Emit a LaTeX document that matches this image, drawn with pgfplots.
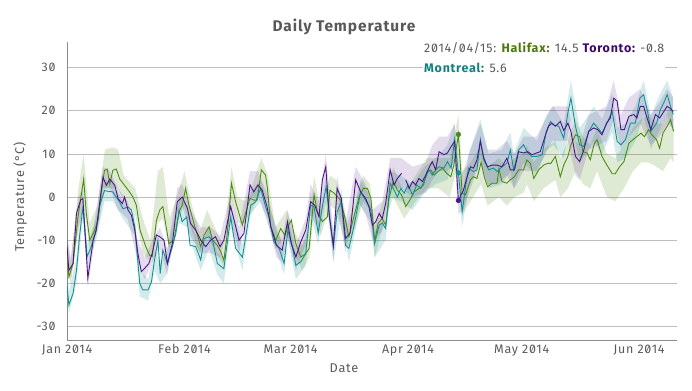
\documentclass[border=0pt]{standalone}
\usepackage{fontspec}
\setmainfont{Fira Sans}[RawFeature=+zero, LetterSpace=6]
\usepackage{pgfplots}
\usepackage{pgfplotstable}
\pgfplotsset{compat=1.18}
\usepgfplotslibrary{fillbetween}
\definecolor{hal}{HTML}{4E8A12}
\definecolor{tor}{HTML}{4B1587}
\definecolor{mon}{HTML}{159090}
\definecolor{haltxt}{HTML}{4A7A0A}
\definecolor{tortxt}{HTML}{3C0870}
\definecolor{montxt}{HTML}{138080}
\definecolor{txtgray}{HTML}{595959}
\definecolor{gridgray}{HTML}{BDBDBD}
\definecolor{axgray}{HTML}{8C8C8C}

\pgfplotstableread{
d t
0 -14
0.5 -18.5
1.6 -15.4
2.9 -4.6
4.4 4.2
5.1 -3.8
6 -10
7.3 -7.7
8.2 -5.4
9.1 1.5
9.9 6.2
10.6 6.5
11.3 3
12.1 6.2
13 6.5
13.9 4.2
15.2 2.7
16.5 1.2
17.4 0
18.3 -1.9
19.3 -7.7
20.8 -11.5
21.8 -13.5
22.5 -13.8
23.6 -5.4
24.5 -3
25.3 -2.2
26.9 -10.8
28.2 -10
29.6 -3.4
30.4 -1.9
31.3 2
32.2 -1.9
33.5 -6.1
35.3 -11.5
36.2 -8.8
37.5 -6.9
38.4 -10
39.7 -11.2
40.6 -12.7
41.4 -14.7
42.3 -8.4
43.4 3.2
44.5 -1.1
45.4 -3.8
46.3 -6.5
47.1 -3.8
48.3 -0.3
49.3 -0.7
50.2 -0.7
51.3 6.3
52.4 5.1
52.9 2
53.8 -6.9
55.1 -10
56.4 -7.3
57.5 -8.8
58.3 -6.9
59.2 -5.3
60.4 -10.8
61.7 -13.9
63 -13.1
63.9 -11.9
65.2 0.5
66.1 -3.4
67.4 -5.7
68.7 -4.6
69.4 1.6
70.5 0.9
72.2 -0.7
73.3 -4.6
74.4 -9.2
75.7 -4.6
77.1 0
78.2 2
79.3 2
80.2 -0.3
81.2 -10.4
82.1 -6.1
83.2 -5
84.1 -6.5
85 -0.3
86.1 3.6
87.2 1.6
88.3 0.5
89.4 -2.2
90.5 -0.7
91.6 1.2
92.9 2
94.1 2.8
95.1 5.9
96 6.3
96.9 5.1
97.9 5.9
99.1 6.7
100.2 5.5
101.3 4.7
102.1 7.4
103.3 14.5
104.3 0.9
105.2 0.5
106.5 4
107.3 4.7
108.2 4.3
109.3 8
110.2 4.5
111 2.4
112.2 3.2
113.5 3.2
114 6.5
114.8 3.6
116.1 3.2
117 4
118.1 4.7
119.2 6.3
120.5 6.3
121.4 8.6
122.3 7.8
123.2 4.3
124.5 6.3
125.8 7.4
126.8 7.8
127.7 7.8
128.9 9.4
130.2 4.7
131.1 7.4
132.2 9.4
133 12.1
134.2 14.4
135.3 14
136.2 10.5
137.3 10.2
138.1 8.6
139.2 12.5
139.9 13.3
141.2 9.4
142.5 7.4
143.9 5.4
144.7 5.4
145.9 7.1
147 8.2
148.3 12.5
149.4 13.3
150.4 14
151.5 14.8
152.4 14
153.5 15.6
154.4 14.4
155.6 13.3
156.4 11.3
157.3 14.8
158.4 16.4
159.3 17.9
160.1 15.2
}\hal

\pgfplotstableread{
d lo hi
0 -17 -10
1 -20 -15
3 -8 2
4.4 -2 10
6 -12 -6
8 -8 -2
10 2 11
12 2 11.5
13.5 2 11
15 -1 5
18 -4 2
20 -13 -5
22 -15 -10
24 -6 6
25.3 -5 7
27 -12 -5
29 -6 0
31 -2 6
33 -8 -2
35 -13 -8
37 -9 -3
40 -14 -9
41.4 -16 -11
43.4 0 7
45 -6 0
47 -6 -1
49 -3 3
51.3 2 9
53 -1 5
55 -12 -7
58 -9 -3
60 -13 -8
62 -17 -11
64 -14 -7
65.2 -3 5
67 -9 -3
69.4 -2 5
71 -3 4
74 -12 -6
76 -7 -1
78.2 -1 5
80 -3 3
81.2 -14 -7
83 -8 -2
85 -3 3
86.1 0 7
89 -5 1
92 -1 5
95 2 9
98 2 9
101 0 9
103.3 8 19
104.3 -4 6
106.5 -1 8
109.3 3 12
111 -2 7
114 0 9
116.1 -2 7
118.1 0 9
120.5 1 10
121.4 3 12
123.2 -1 8
125.8 2 11
128.9 4 13
130.2 0 9
132.2 2 13
134.2 6 18
136.2 3 14
138.1 2 12
139.9 6 16
142.5 0 10
144.7 -1 9
147 2 12
149.4 6 16
151.5 8 18
153.5 8 19
155.6 7 17
157.3 6 17
159.3 9 21
160.1 8 18
}\halband

\pgfplotstableread{
d t
0 -11.5
0.5 -17
1.6 -15.4
2.5 -3.8
3.6 -0.7
4.2 -0.4
5.5 -18.8
6.9 -10
7.7 -7.7
8.6 -1.5
9.5 4.6
10.4 2.7
11.3 4.2
12.6 2.7
13.5 -0.4
14.6 -1.5
15.2 0
16.1 -3
17 -4.2
17.9 -7.7
18.7 -13
19.6 -17.3
20.5 -16.5
21.6 -15.4
22.5 -13
23.6 -8.8
24.5 -9.2
25.6 -10
26.5 -15.4
27.8 -10.8
29.1 -1.1
30.4 0
31.8 -2.6
32.6 -6.1
34 -7.7
35.3 -10
36.6 -11.5
37.9 -10
39.2 -9.2
40.4 -11.5
41.4 -10
43.2 -2.2
44.1 -5.3
45.4 -10
46.7 -8.4
48.3 2.8
49.3 1.2
50.4 2.8
51.5 1.6
52.8 -2.2
53.8 -6.9
55.3 -11.2
56.8 -12.3
58.2 -5.7
59.2 -10.8
60.4 -13.9
61.7 -10.4
63 -7.7
64.3 -1.1
65.4 -1.9
66.5 -4.6
67.4 4
68.3 7
69.2 -4.2
70.3 -11.2
71.3 2
72.4 -0.3
73.5 -9.6
74.7 -8.4
76.2 4
77.5 1.2
78.8 -0.3
79.7 -2.2
80.6 -6.5
81.5 -5.7
82.4 -3.8
83.2 -5
84.1 -1.5
85.3 6.3
86.3 2.8
87.2 4.3
88.3 5.5
88.9 nan
89.4 4
90.3 2
91.2 3.6
92 2.8
92.9 4.3
93.8 3.6
94.7 5.1
95.5 6.7
96.4 8.2
97.3 6.3
98.2 10.5
99.5 9.8
100.4 10.2
101.4 11.7
102.3 12.9
103.3 -0.8
104.6 1.5
105.6 4.7
106.5 7
107.3 6.7
108.2 8.6
109.1 12.9
110 9
111 7
112.2 7.4
113.5 7.4
114.8 7
116.1 9
117 6.3
118.1 6.3
119.2 10.5
120.5 10.2
121.6 10.5
122.7 9.8
123.9 10.2
124.9 10.5
126.3 14.4
127.1 16.4
128 17.1
128.9 16.4
130.2 17.5
131.1 15.4
132.2 17.1
133 15.2
134.2 9.4
135.3 8.2
136.4 10.9
137.7 15.2
139 16
140.1 15.6
141.2 14.4
142.4 17.1
143.4 18.3
144.3 22.9
145.2 22.2
146.2 15.6
147.1 15.6
148.3 18.7
149.6 19.1
150.4 18.3
151.3 21
152.2 21
153.1 18.3
154.1 15.6
155.3 19.1
156.4 18.3
157.3 19.5
158.4 21
159.1 20.6
160 19.8
}\tor

\pgfplotstableread{
d lo hi
0 -14 -9
1 -19 -14
3 -7 0
4.2 -3 2
5.5 -21 -16
7 -12 -7
9.5 2 7
11.3 2 6
13.5 -3 2
16 -5 -1
18.7 -15 -10
20.5 -19 -14
22.5 -15 -10
24.5 -12 -7
26.5 -18 -12
29.1 -4 2
30.4 -2 3
32.6 -9 -3
35.3 -13 -7
37.9 -13 -7
40.4 -14 -9
43.2 -5 1
45.4 -13 -7
48.3 0 6
50.4 0 6
52.8 -5 1
55.3 -14 -8
56.8 -15 -10
58.2 -9 -3
60.4 -17 -11
63 -11 -5
64.3 -4 3
66.5 -8 -1
68.3 3 10
70.3 -15 -8
71.3 -2 5
73.5 -13 -6
76.2 0 7
78.8 -4 3
80.6 -10 -3
83.2 -8 -1
85.3 2 9
88.3 2 9
91.2 0 7
94.7 1 8
96.4 4 12
98.2 6 14
100.4 6 14
102.3 8 17
103.3 -4 4
104.6 -3 6
106.5 2 11
109.1 8 17
111 3 11
113.5 3 11
116.1 5 13
118.1 2 10
120.5 6 14
123.9 6 14
126.3 10 18
128 13 21
130.2 13 21
132.2 13 21
134.2 5 13
135.3 4 12
137.7 11 19
140.1 12 20
142.4 13 21
144.3 18 27
146.2 11 19
148.3 14 23
151.3 17 25
154.1 12 19
156.4 14 22
158.4 17 25
160 16 23
}\torband

\pgfplotstableread{
d t
0 -20.5
0.5 -25
1.6 -22.3
2.5 -17
3.3 -9.2
4.2 -2.3
5.3 -13.8
6.4 -11.5
7.7 -7.7
8.6 -2
9.9 1.5
11 1.3
12.1 1.2
13 0
13.9 -1.2
14.8 -2.7
16.1 -2.3
17 -3
17.9 -6.9
19.2 -20
20 -21.5
21.4 -21.5
22.3 -19.6
23.1 -14.6
24 -10
24.6 -17.7
25.3 -12.3
26.5 -15.4
27.8 -11.5
28.7 -8.5
29.6 -3
30.4 -5.7
31.6 -4.6
32.5 -11.2
34 -11.5
35.3 -14.6
36.2 -9.6
37.5 -9.2
38.4 -10
39.7 -15.4
41.4 -16.6
43.2 -4.6
44.5 -11.9
46.3 -13.9
48.5 -1.9
49.8 -1.1
51.1 2
52.4 -2.2
53.3 -4.6
54.6 -10.4
56 -11.9
57.3 -15.4
58.3 -7.7
59.5 -11.6
60.4 -15.8
61.7 -15
63 -13.1
64.3 -1.9
65.2 -2.2
66.3 -8.4
67.4 -2.2
68.4 2.4
69.2 -3.8
70.3 -11.6
71.3 -3.4
72.4 -1.1
73.5 -11.2
74.4 -11.9
75.7 -6.9
77.5 1.2
78.8 -0.7
80.2 -3
81.2 -10.8
82.4 -6.5
83.2 -6
84.1 -7.3
85.3 3.2
86.3 1.6
87.2 0
88.1 2
89 0.9
90 2.8
91.2 0.5
92.3 2.8
93.4 2
94.4 4
95.5 6.3
96.4 5.1
97.3 6.3
98.2 7
99.5 6.7
100.4 8.2
101.4 6.7
102.3 13.3
103.3 5.6
104.3 -3.4
105.2 2.4
106 6.7
107.3 5.9
108.2 6.3
109.1 13.3
110 8.6
111.3 6.3
112.6 6.7
113.5 5.9
114.8 7
116.1 7.8
117 10.9
117.9 6.3
119.2 10.9
120.5 12.1
121.6 10.2
122.7 9.4
124 9.4
125.4 9.8
126.5 15.2
127.6 17.5
128.4 16.7
129.8 16.4
131.1 13.6
132.2 19.5
133 22.9
134.2 16.4
135.3 12.1
136.4 11.7
137.7 15.2
139 17.1
140.1 16
141.2 14.8
142.5 17.1
143.9 19.8
145.2 12.9
146.2 12.1
147.4 13.3
148.7 17.1
150 17.1
151.2 22.9
152.2 23.7
153.3 19.5
154.1 15.2
155.6 17.1
156.6 20.2
157.5 21.8
158.4 23.7
159.3 21
160 19.1
}\mon

\pgfplotstableread{
d lo hi
0 -23 -17
0.5 -27 -22
2.5 -20 -14
4.2 -5 1
5.3 -16 -11
7.7 -10 -5
9.9 -1 4
12.1 -1 3
14.8 -5 -1
17.9 -9 -4
19.2 -23 -17
21.4 -24 -19
23.1 -17 -12
24.6 -20 -15
26.2 -18 -13
29.6 -6 0
31.6 -7 -2
34 -14 -9
35.3 -17 -12
37.5 -12 -7
39.7 -18 -13
41.4 -20 -14
43.2 -7 -2
46.3 -17 -11
48.5 -4 1
51.1 -1 4
53.3 -7 -2
57.3 -18 -12
58.3 -10 -5
60.4 -19 -13
63 -16 -10
64.3 -4 1
66.3 -11 -6
68.4 -1 5
70.3 -15 -9
72.4 -4 2
74.4 -15 -9
77.5 -2 4
80.2 -6 0
81.2 -14 -8
84.1 -10 -5
85.3 0 6
88.1 -1 5
91.2 -3 3
94.4 1 7
97.3 3 9
100.4 4 12
102.3 9 17
103.3 2 9
104.3 -7 0
106 2 10
109.1 9 18
111.3 2 10
114.8 3 11
117 6 15
117.9 2 10
120.5 8 16
124 5 13
126.5 11 19
128.4 12 21
131.1 9 17
133 18 27
135.3 8 16
137.7 11 19
139 13 21
141.2 10 18
143.9 15 24
145.2 8 16
147.4 9 17
150 13 21
152.2 19 27
154.1 11 19
156.6 16 24
158.4 19 27
160 15 23
}\monband

\begin{document}
\begin{tikzpicture}
\begin{axis}[
  at={(0,0)}, anchor=south west,
  scale only axis, width=610bp, height=298bp,
  xmin=0, xmax=161, ymin=-33.1, ymax=35.9,
  axis x line*=bottom, axis y line*=left,
  axis line style={-, axgray, line width=0.8pt},
  ytick={-30,-20,-10,0,10,20,30},
  yticklabels={-30,-20,-10,0,10,20,30},
  xtick={0,31,59,90,120,151},
  xticklabels={Jan 2014,Feb 2014,Mar 2014,Apr 2014,May 2014,Jun 2014},
  major tick length=0pt,
  ymajorgrids, grid style={gridgray, line width=0.7pt},
  tick label style={font=\fontsize{12.5}{14}\selectfont, text=txtgray},
  yticklabel style={xshift=-8bp},
  xticklabel style={yshift=-1bp},
  unbounded coords=jump,
]
\addplot[name path=hhi, draw=none, forget plot] table[x=d,y=hi]{\halband};
\addplot[name path=hlo, draw=none, forget plot] table[x=d,y=lo]{\halband};
\addplot[fill=hal, fill opacity=0.18, draw=none] fill between[of=hhi and hlo];
\addplot[name path=mhi, draw=none, forget plot] table[x=d,y=hi]{\monband};
\addplot[name path=mlo, draw=none, forget plot] table[x=d,y=lo]{\monband};
\addplot[fill=mon, fill opacity=0.18, draw=none] fill between[of=mhi and mlo];
\addplot[name path=thi, draw=none, forget plot] table[x=d,y=hi]{\torband};
\addplot[name path=tlo, draw=none, forget plot] table[x=d,y=lo]{\torband};
\addplot[fill=tor, fill opacity=0.15, draw=none] fill between[of=thi and tlo];

\addplot[hal, line width=0.9pt, mark=none] table[x=d,y=t]{\hal};
\addplot[mon, line width=0.9pt, mark=none] table[x=d,y=t]{\mon};
\addplot[tor, line width=0.9pt, mark=none] table[x=d,y=t]{\tor};

\addplot[only marks, mark=*, mark size=2.4pt, hal] coordinates {(103.3,14.5)};
\addplot[only marks, mark=*, mark size=2.4pt, mon] coordinates {(103.3,5.6)};
\addplot[only marks, mark=*, mark size=2.4pt, tor] coordinates {(103.3,-0.8)};
\end{axis}
\node[font=\fontsize{15.5}{18}\selectfont\bfseries, text=txtgray] at (277bp,313bp) {Daily Temperature};
\node[rotate=90, font=\fontsize{12.8}{14}\selectfont, text=txtgray] at (-47bp,143bp) {Temperature (°C)};
\node[font=\fontsize{12.8}{14}\selectfont, text=txtgray] at (277bp,-28bp) {Date};
\node[anchor=north west, fill=white, inner sep=1bp, align=left, font=\fontsize{12.5}{20}\selectfont, text=txtgray] at (356bp,299bp)
 {2014/04/15: {\bfseries\color{haltxt}Halifax:} 14.5 {\bfseries\color{tortxt}Toronto:} -0.8\\
  {\bfseries\color{montxt}Montreal:} 5.6};
\pgfresetboundingbox
\path[use as bounding box] (-67bp,-51bp) rectangle (625bp,340bp);
\end{tikzpicture}
\end{document}
